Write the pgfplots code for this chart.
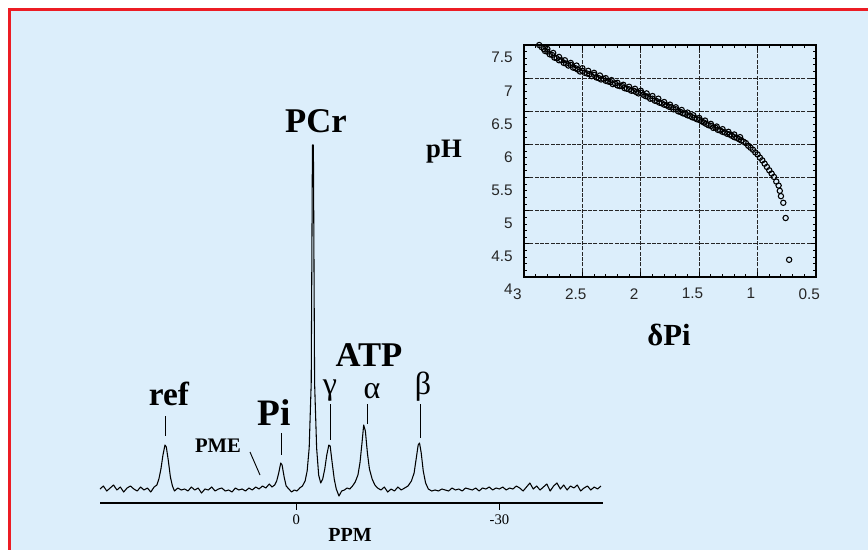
\documentclass[border=0pt]{standalone}
\usepackage{pgfplots}
\pgfplotsset{compat=1.18}
\usepackage{fontspec}
\setmainfont{Liberation Serif}
\newfontfamily\tickfont{Liberation Sans}
\definecolor{bgblue}{RGB}{220,238,251}
\definecolor{frame}{RGB}{236,28,36}

\begin{document}
\begin{tikzpicture}
\useasboundingbox (0,0) rectangle (651pt,-412.5pt);
\fill[white] (0,0) rectangle (651pt,-412.5pt);
\fill[bgblue] (6pt,-6pt) rectangle (651pt,-412.5pt);
\draw[frame, line width=2.25pt] (7.1pt,-412.5pt) -- (7.1pt,-7.1pt) -- (651pt,-7.1pt);

% 31P spectrum
\begin{axis}[
  at={(75pt,-377.25pt)}, anchor=south west,
  scale only axis, width=377.25pt, height=300pt,
  x dir=reverse, xmin=-45.3, xmax=29, ymin=0, ymax=400,
  axis x line=bottom, axis y line=none,
  axis line style={-, line width=1.5pt},
  xtick={-30,0}, xticklabels={-30,0},
  tick align=outside, major tick length=5pt,
  tick style={black, line width=0.8pt},
  tick label style={font=\fontsize{11}{11}\selectfont},
  clip=false,
]
\addplot[black, line width=0.8pt, line join=round] coordinates {
(29.0,14) (28.5,17) (28.0,12) (27.5,15) (27.0,18) (26.5,13) (26.0,16) (25.5,11)
(25.0,15) (24.5,17) (24.0,14) (23.5,12) (23.0,16) (22.5,13) (22.0,15) (21.5,11)
(21.0,16) (20.6,18) (20.3,24) (20.0,34) (19.7,48) (19.4,58) (19.2,56) (18.9,42)
(18.6,26) (18.3,17) (18.0,12) (17.5,15) (17.0,13) (16.5,14) (16.0,12) (15.5,16)
(15.0,13) (14.5,15) (14.0,10) (13.5,14) (13.0,13) (12.5,16) (12.0,12) (11.5,14)
(11.0,15) (10.5,12) (10.0,13) (9.5,11) (9.0,15) (8.5,13) (8.0,14) (7.5,12)
(7.0,15) (6.5,13) (6.0,16) (5.5,14) (5.0,17) (4.5,15) (4.0,19) (3.6,16)
(3.2,18) (2.9,22) (2.6,30) (2.3,40) (2.1,38) (1.8,26) (1.5,17) (1.1,14)
(0.7,11) (0.3,13) (-0.1,12) (-0.5,15) (-0.9,17) (-1.3,22) (-1.6,32) (-1.9,55)
(-2.2,120) (-2.38,358) (-2.52,358) (-2.7,120) (-3.0,55) (-3.3,28) (-3.6,20)
(-3.9,24) (-4.2,34) (-4.5,48) (-4.8,58) (-5.0,57) (-5.3,40) (-5.6,24) (-5.9,14)
(-6.3,7) (-6.7,12) (-7.1,13) (-7.5,15) (-7.9,14) (-8.3,17) (-8.7,21) (-9.1,28)
(-9.4,40) (-9.7,60) (-9.95,78) (-10.2,72) (-10.5,50) (-10.8,34) (-11.2,24) (-11.6,18)
(-12.0,15) (-12.5,13) (-13.0,16) (-13.5,11) (-14.0,14) (-14.5,12) (-15.0,16) (-15.5,13)
(-16.0,15) (-16.5,17) (-17.0,22) (-17.4,30) (-17.7,44) (-18.0,58) (-18.2,60) (-18.45,50)
(-18.75,32) (-19.1,20) (-19.5,14) (-20.0,12) (-20.5,13) (-21.0,12) (-21.5,14) (-22.0,13)
(-22.5,12) (-23.0,15) (-23.5,13) (-24.0,14) (-24.5,12) (-25.0,15) (-25.5,14) (-26.0,13)
(-26.5,15) (-27.0,12) (-27.5,15) (-28.0,14) (-28.5,16) (-29.0,13) (-29.5,15) (-30.0,14)
(-30.5,16) (-31.0,13) (-31.5,15) (-32.0,14) (-32.5,17) (-33.0,15) (-33.5,12) (-34.0,16)
(-34.5,20) (-35.0,14) (-35.5,17) (-36.0,13) (-36.5,16) (-37.0,19) (-37.5,12) (-38.0,17)
(-38.5,20) (-39.0,14) (-39.5,18) (-40.0,13) (-40.5,17) (-41.0,15) (-41.5,18) (-42.0,12)
(-42.5,15) (-43.0,17) (-43.5,13) (-44.0,16) (-44.5,14) (-45.0,17)};
\end{axis}

% inset: pH against chemical shift of Pi
\begin{axis}[
  at={(393pt,-207.75pt)}, anchor=south west,
  scale only axis, width=219pt, height=174pt,
  x dir=reverse, xmin=0.5, xmax=3, ymin=4, ymax=7.5,
  xtick={0.5,1,1.5,2,2.5,3}, ytick={4,4.5,5,5.5,6,6.5,7,7.5},
  minor x tick num=4, minor y tick num=4,
  grid=major, major grid style={black!85, dash pattern=on 3pt off 1pt, line width=0.8pt},
  axis line style={line width=1.5pt},
  tick align=inside, major tick length=4pt, minor tick length=2.5pt,
  tick style={black, line width=0.7pt},
  tick label style={font=\tickfont\fontsize{11.5}{11.5}\selectfont, text=black!85},
  /pgf/number format/assume math mode=true,
  yticklabel style={yshift=-9.5pt, xshift=-5pt},
  xticklabel style={xshift=-5pt, yshift=-5pt},
]
\addplot[only marks, mark=o, mark size=2pt, mark options={black, line width=0.8pt}] coordinates {
(2.89,7.53) (2.87,7.50) (2.85,7.47) (2.83,7.44) (2.82,7.41) (2.80,7.40) (2.78,7.36) (2.76,7.35)
(2.74,7.31) (2.72,7.30) (2.70,7.27) (2.68,7.27) (2.66,7.23) (2.64,7.22) (2.62,7.19) (2.60,7.20)
(2.58,7.16) (2.56,7.15) (2.54,7.13) (2.52,7.10) (2.50,7.11) (2.48,7.08) (2.46,7.07) (2.44,7.06)
(2.42,7.03) (2.40,7.05) (2.38,7.01) (2.36,7.00) (2.34,6.98) (2.32,6.99) (2.30,6.96) (2.28,6.95)
(2.26,6.94) (2.24,6.91) (2.22,6.92) (2.20,6.89) (2.18,6.88) (2.16,6.88) (2.14,6.85) (2.12,6.84)
(2.10,6.83) (2.08,6.81) (2.06,6.81) (2.04,6.79) (2.02,6.77) (2.00,6.78) (1.98,6.75) (1.96,6.73)
(1.94,6.72) (1.92,6.69) (1.90,6.69) (1.88,6.66) (1.86,6.65) (1.84,6.63) (1.82,6.62) (1.80,6.60)
(1.78,6.59) (1.76,6.57) (1.74,6.56) (1.72,6.53) (1.70,6.53) (1.68,6.50) (1.66,6.49) (1.64,6.47)
(1.62,6.46) (1.60,6.44) (1.58,6.43) (1.56,6.41) (1.54,6.40) (1.52,6.38) (1.50,6.37) (1.48,6.35)
(1.46,6.33) (1.44,6.31) (1.42,6.29) (1.40,6.28) (1.38,6.25) (1.36,6.25) (1.34,6.22) (1.32,6.21)
(1.30,6.19) (1.28,6.18) (1.26,6.16) (1.24,6.15) (1.22,6.13) (1.20,6.11) (1.18,6.10) (1.16,6.08)
(1.14,6.06) (1.12,6.04) (1.10,6.02) (1.08,5.98) (1.06,5.95) (1.04,5.92) (1.02,5.88) (1.00,5.85)
(0.98,5.80) (0.96,5.76) (0.94,5.71) (0.92,5.66) (0.90,5.61) (0.88,5.56) (0.86,5.51) (0.84,5.44)
(0.82,5.38) (0.81,5.30) (0.80,5.22) (0.78,5.12) (0.76,4.89) (0.73,4.26)
(2.85,7.51) (2.80,7.44) (2.75,7.38) (2.70,7.32) (2.65,7.27) (2.60,7.23) (2.55,7.19) (2.50,7.15)
(2.45,7.11) (2.40,7.08) (2.35,7.04) (2.30,7.00) (2.25,6.97) (2.20,6.93) (2.15,6.90) (2.10,6.87)
(2.05,6.84) (2.00,6.81) (1.95,6.77) (1.90,6.73) (1.85,6.69) (1.80,6.64) (1.75,6.60) (1.70,6.56)
(1.65,6.52) (1.60,6.48) (1.55,6.44) (1.50,6.40) (1.45,6.36) (1.40,6.31) (1.35,6.27) (1.30,6.23)
(1.25,6.19) (1.20,6.15) (1.15,6.11)};
\end{axis}

\begin{scope}[x=0.75pt, y=-0.75pt]
% inset titles
\node[anchor=base, font=\bfseries\fontsize{20}{20}\selectfont] at (444,157) {pH};
\node[anchor=base, font=\bfseries\fontsize{23}{23}\selectfont] at (669,345) {δPi};
% spectrum annotations
\node[anchor=base, font=\bfseries\fontsize{15}{15}\selectfont] at (350,541) {PPM};
\node[anchor=base, font=\bfseries\fontsize{26}{26}\selectfont] at (316,132) {PCr};
\node[anchor=base, font=\bfseries\fontsize{26}{26}\selectfont] at (369,366) {ATP};
\node[anchor=base, font=\bfseries\fontsize{25}{25}\selectfont] at (169,405) {ref};
\node[anchor=base, font=\bfseries\fontsize{28}{28}\selectfont] at (274,425) {Pi};
\node[anchor=base, font=\bfseries\fontsize{15.5}{15.5}\selectfont] at (218,452) {PME};
\node[anchor=base, font=\fontsize{24}{24}\selectfont] at (330,394) {γ};
\node[anchor=base, font=\fontsize{24}{24}\selectfont] at (372,398) {α};
\node[anchor=base, font=\fontsize{24}{24}\selectfont] at (423,394) {β};
\draw[black, line width=0.7pt] (165,416) -- (165,436);
\draw[black, line width=0.7pt] (281,433) -- (281,455);
\draw[black, line width=0.7pt] (330,404) -- (330,440);
\draw[black, line width=0.7pt] (367,404) -- (367,424);
\draw[black, line width=0.7pt] (420,404) -- (420,438);
\draw[black, line width=0.7pt] (250,452) -- (260,475);
\end{scope}
\end{tikzpicture}
\end{document}
